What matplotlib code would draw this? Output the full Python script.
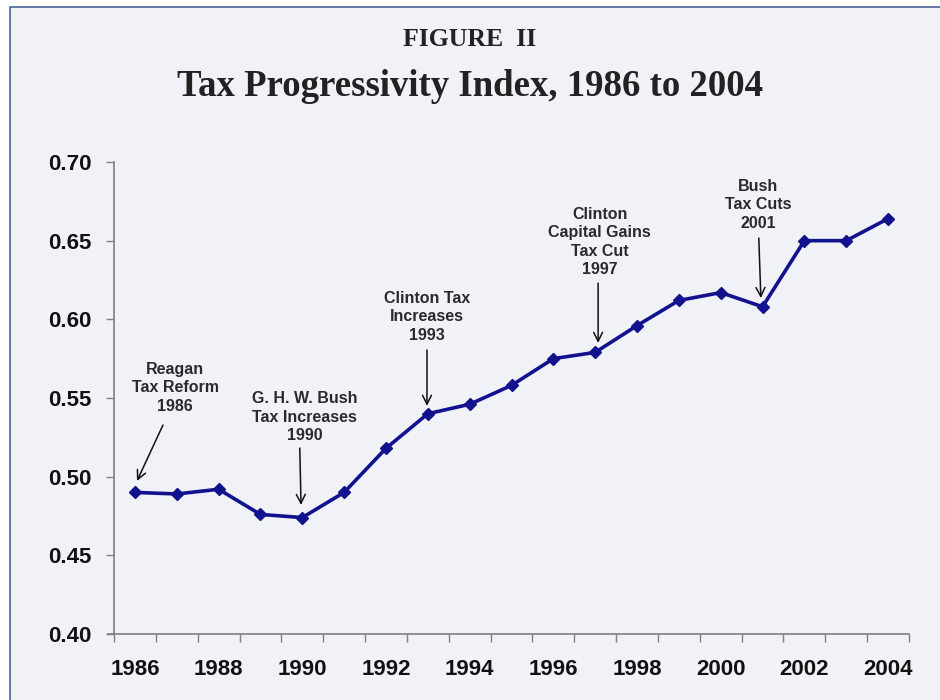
import matplotlib
matplotlib.use("Agg")
import matplotlib.pyplot as plt
from matplotlib.patches import Rectangle

years = list(range(1986, 2005))
index_values = [0.490, 0.489, 0.492, 0.476, 0.474, 0.490, 0.518, 0.540, 0.546,
                0.558, 0.575, 0.579, 0.596, 0.612, 0.617, 0.608, 0.650, 0.650, 0.664]
year_labels = [str(y) if (y - 1986) % 2 == 0 else "" for y in years]

# annotation text, text position, arrow tail, arrow tip (x in category index units)
notes = ["Reagan\nTax Reform\n1986",
         "G. H. W. Bush\nTax Increases\n1990",
         "Clinton Tax\nIncreases\n1993",
         "Clinton\nCapital Gains\nTax Cut\n1997",
         "Bush\nTax Cuts\n2001"]
note_xy = [(0.96, 0.5564), (4.06, 0.5379), (6.98, 0.6015), (11.11, 0.6492), (14.89, 0.6727)]
tail_xy = [(0.67, 0.5328), (3.94, 0.5182), (6.98, 0.5805), (11.07, 0.6230), (14.91, 0.6517)]
tip_xy = [(0.05, 0.4973), (3.97, 0.4820), (6.98, 0.5450), (11.07, 0.5850), (14.96, 0.6135)]

bg = "#f0f2f8"
fig = plt.figure(figsize=(9.4, 7), dpi=100)
fig.patch.set_facecolor("white")
fig.patches.append(Rectangle((10 / 940, -0.05), 1.0, (693 / 700) + 0.05,
                             transform=fig.transFigure, facecolor=bg,
                             edgecolor="#4a6296", linewidth=1.2, zorder=-5))

ax = fig.add_axes([114 / 940, 66 / 700, 795 / 940, 472 / 700])
ax.set_facecolor("none")

x = list(range(len(years)))
ax.plot(x, index_values, color="#12128f", linewidth=2.6, marker="D",
        markersize=6, zorder=3)

ax.set_xlim(-0.5, len(years) - 0.5)
ax.set_ylim(0.40, 0.70)
ax.set_yticks([0.40, 0.45, 0.50, 0.55, 0.60, 0.65, 0.70])
ax.set_yticklabels([f"{v:.2f}" for v in ax.get_yticks()])
ax.set_xticks(x)
ax.set_xticklabels(year_labels)
ax.set_xticks([i - 0.5 for i in range(len(years) + 1)], minor=True)
ax.tick_params(axis="x", which="major", length=0, pad=18)
ax.tick_params(axis="x", which="minor", length=6, color="#808080", width=1)
ax.tick_params(axis="y", length=6, color="#808080", width=1, pad=10)
for lab in ax.get_xticklabels() + ax.get_yticklabels():
    lab.set_fontfamily("Liberation Sans")
    lab.set_fontweight("bold")
    lab.set_fontsize(16)
    lab.set_color("#111111")

for s in ["top", "right"]:
    ax.spines[s].set_visible(False)
for s in ["left", "bottom"]:
    ax.spines[s].set_color("#808080")
    ax.spines[s].set_linewidth(1.2)
ax.spines["bottom"].set_bounds(-0.65, len(years) - 0.5)

for txt, pos, tail, tip in zip(notes, note_xy, tail_xy, tip_xy):
    ax.text(pos[0], pos[1], txt, ha="center", va="center", fontsize=11.5,
            fontweight="bold", family="Liberation Sans", color="#2a2a2a",
            linespacing=1.28)
    ax.annotate("", xy=tip, xytext=tail,
                arrowprops=dict(arrowstyle="->", color="#111111", lw=1.1,
                                mutation_scale=16, shrinkA=0, shrinkB=0))

fig.text(0.5, 1 - 40 / 700, "FIGURE  II", ha="center", va="center",
         fontsize=18.5, fontweight="bold", family="Liberation Serif", color="#222222")
fig.text(0.5, 1 - 87 / 700, "Tax Progressivity Index, 1986 to 2004", ha="center",
         va="center", fontsize=26.5, fontweight="bold", family="Liberation Serif",
         color="#222222")

fig.savefig("out.png", dpi=100, facecolor=fig.get_facecolor())
